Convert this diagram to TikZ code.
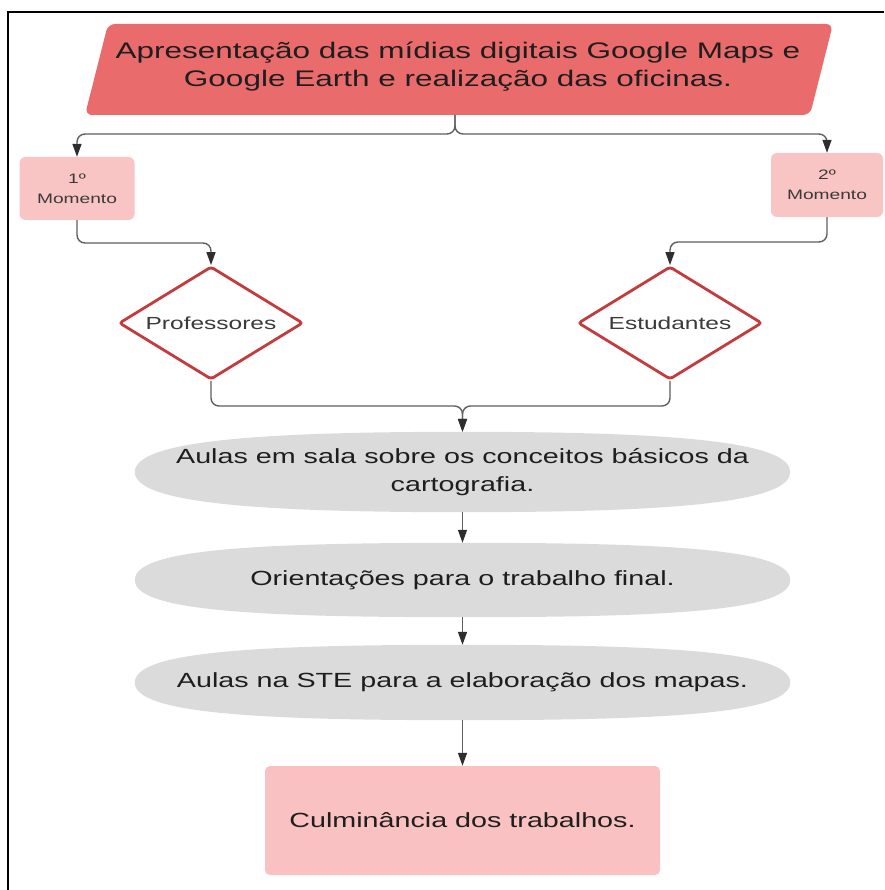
\documentclass[tikz,border=0pt]{standalone}
\usepackage{fontspec}
\setmainfont[FakeStretch=1.4]{Liberation Sans}
\usetikzlibrary{shapes.geometric,arrows.meta}
\definecolor{titlered}{HTML}{EA6B6B}
\definecolor{pinkbox}{HTML}{F9C4C4}
\definecolor{culmpink}{HTML}{F9C1C1}
\definecolor{diared}{HTML}{C43B3E}
\definecolor{ellgray}{HTML}{DBDBDB}
\definecolor{linegray}{HTML}{5E5E5E}
\definecolor{tipgray}{HTML}{2E2E2E}
\definecolor{txtdark}{HTML}{1E1E1E}
\definecolor{txtgray}{HTML}{3A3A3A}
\tikzset{
  conn/.style={draw=linegray, line width=1.4pt, rounded corners=8pt,
    -{Triangle[width=9pt,length=13pt,color=tipgray]}},
  connplain/.style={draw=linegray, line width=1.4pt, rounded corners=8pt},
  momentobox/.style={rectangle, fill=pinkbox, rounded corners=6pt, inner sep=0pt,
    align=center, text=txtgray, font=\fontsize{13.7}{20}\selectfont},
  diabox/.style={diamond, draw=diared, line width=2.8pt, fill=white, shape aspect=1.62,
    minimum width=184pt, minimum height=113pt, inner sep=0pt, rounded corners=3pt,
    text=txtgray, font=\fontsize{17.5}{20}\selectfont},
  ellbox/.style={rectangle, inner sep=0pt},
  elltext/.style={align=center, text=txtdark, inner sep=0pt, font=\fontsize{20.5}{28}\selectfont},
  culmbox/.style={rectangle, fill=culmpink, rounded corners=5pt, inner sep=0pt,
    text=txtdark, font=\fontsize{20.5}{28}\selectfont},
  titletext/.style={align=center, text=txtdark, inner sep=0pt, font=\fontsize{22.5}{28}\selectfont}
}
\newcommand{\gellipse}[1]{%
  \fill[ellgray] (#1.west) .. controls +(0,-30) and +(-215,0) .. (#1.north)
    .. controls +(215,0) and +(0,-30) .. (#1.east)
    .. controls +(0,30) and +(215,0) .. (#1.south)
    .. controls +(-215,0) and +(0,30) .. (#1.west) -- cycle;}
\begin{document}
\begin{tikzpicture}[x=1pt,y=-1pt]
\useasboundingbox (0,0) rectangle (884,890);
% frame
\draw[line width=2.2pt] (8,890) -- (8,12) -- (884,12);
% title parallelogram
\fill[titlered, rounded corners=7pt] (108,24) -- (833,24) -- (810,115) -- (85,115) -- cycle;
\node[titletext] (title) at (458,67) {Apresentação das mídias digitais Google Maps e\\Google Earth e realização das oficinas.};
\coordinate (tb) at (455,115);
\coordinate (j0) at (455,134);
% momento boxes
\node[momentobox, minimum width=115pt, minimum height=63pt] (m1) at (77,188.5) {1º\\Momento};
\node[momentobox, minimum width=112pt, minimum height=64pt] (m2) at (827,185) {2º\\Momento};
\draw[conn] (tb) -- (j0) -| (m1.north);
\draw[conn] (tb) -- (j0) -| (m2.north);
% diamonds
\node[diabox] (p) at (211,323) {Professores};
\node[diabox] (s) at (670,323) {Estudantes};
\coordinate (c1) at (211,243);
\coordinate (c2) at (670,242);
\draw[conn] (m1.south) |- (c1) -- (p.north);
\draw[conn] (m2.south) |- (c2) -- (s.north);
% ellipses
\node[ellbox, minimum width=655pt, minimum height=80pt] (e1) at (462.5,472) {};
\node[ellbox, minimum width=655pt, minimum height=74pt] (e2) at (462.5,580) {};
\node[ellbox, minimum width=655pt, minimum height=75pt] (e3) at (462.5,682.5) {};
\gellipse{e1}
\gellipse{e2}
\gellipse{e3}
\node[elltext] (t1) at (e1) {Aulas em sala sobre os conceitos básicos da\\cartografia.};
\node[elltext] (t2) at (e2) {Orientações para o trabalho final.};
\node[elltext] (t3) at (e3) {Aulas na STE para a elaboração dos mapas.};
% merge into e1
\coordinate (j1) at (462.5,406);
\draw[conn] (p.south) |- (j1) -- (e1.north);
\draw[conn] (s.south) |- (j1) -- (e1.north);
% culminancia
\node[culmbox, minimum width=395pt, minimum height=109pt] (c) at (462.5,820.5) {Culminância dos trabalhos.};
\draw[conn] (e1.south) -- (e2.north);
\draw[conn] (e2.south) -- (e3.north);
\draw[conn] (e3.south) -- (c.north);
\end{tikzpicture}
\end{document}
